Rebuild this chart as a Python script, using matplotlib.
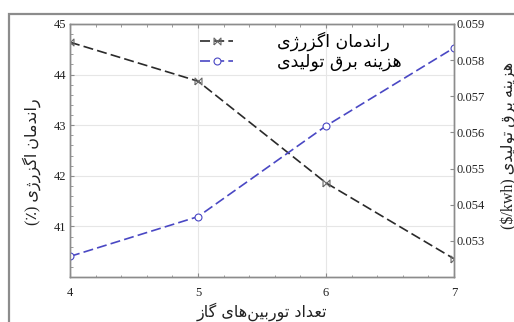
import matplotlib
matplotlib.use('Agg')
import matplotlib.pyplot as plt
from matplotlib.patches import Rectangle
from matplotlib.ticker import MultipleLocator

# data
turbines = [4, 5, 6, 7]
exergy_eff = [44.64, 43.87, 41.86, 40.36]
elec_cost = [0.05257, 0.05367, 0.05618, 0.05834]

left_ticks = [41, 42, 43, 44, 45]
right_ticks = [0.053, 0.054, 0.055, 0.056, 0.057, 0.058, 0.059]
right_tick_labels = ['0.053', '0.054', '0.055', '0.056', '0.057', '0.058', '0.059']

lbl_eff = 'راندمان اگزرژی'
lbl_cost = 'هزینه برق تولیدی'
lbl_x = 'تعداد توربین\u200cهای گاز'

# matplotlib has no arabic shaping, so pick presentation forms by hand
# (isolated, final, initial, medial)
FORMS = {
    'ا': ('\uFE8D', '\uFE8E', None, None),
    'ب': ('\uFE8F', '\uFE90', '\uFE91', '\uFE92'),
    'ت': ('\uFE95', '\uFE96', '\uFE97', '\uFE98'),
    'د': ('\uFEA9', '\uFEAA', None, None),
    'ر': ('\uFEAD', '\uFEAE', None, None),
    'ز': ('\uFEAF', '\uFEB0', None, None),
    'ع': ('\uFEC9', '\uFECA', '\uFECB', '\uFECC'),
    'ق': ('\uFED5', '\uFED6', '\uFED7', '\uFED8'),
    'ل': ('\uFEDD', '\uFEDE', '\uFEDF', '\uFEE0'),
    'م': ('\uFEE1', '\uFEE2', '\uFEE3', '\uFEE4'),
    'ن': ('\uFEE5', '\uFEE6', '\uFEE7', '\uFEE8'),
    'ه': ('\uFEE9', '\uFEEA', '\uFEEB', '\uFEEC'),
    'و': ('\uFEED', '\uFEEE', None, None),
    'ژ': ('\uFB8A', '\uFB8B', None, None),
    'گ': ('\uFB92', '\uFB93', '\uFB94', '\uFB95'),
    'ی': ('\uFBFC', '\uFBFD', '\uFBFE', '\uFBFF'),
}


def shape(s):
    out = []
    for i, c in enumerate(s):
        if c not in FORMS:
            out.append(c)
            continue
        prev = s[i - 1] if i > 0 else ''
        nxt = s[i + 1] if i + 1 < len(s) else ''
        jp = prev in FORMS and FORMS[prev][2] is not None
        jn = FORMS[c][2] is not None and nxt in FORMS
        iso, fin, ini, med = FORMS[c]
        if jp and jn:
            out.append(med)
        elif jp:
            out.append(fin)
        elif jn:
            out.append(ini)
        else:
            out.append(iso)
    return ''.join(out).replace('\u200c', '')[::-1]


fa = ['DejaVu Sans']
mixed = ['Liberation Serif', 'DejaVu Sans']
plt.rcParams['font.family'] = ['Liberation Serif', 'DejaVu Sans']

fig = plt.figure(figsize=(5.14, 3.22), dpi=100)
fig.patches.append(Rectangle((9 / 514, -0.2), 1.2, 0.2 + 1 - 14 / 322,
                             transform=fig.transFigure, fill=False,
                             edgecolor='#8c8c8c', lw=1.6))
ax = fig.add_axes([70 / 514, 45 / 322, 384 / 514, 253 / 322])
ax2 = ax.twinx()

black = '#2a2a2a'
blue = '#4a48c4'
l1, = ax.plot(turbines, exergy_eff, color=black, lw=1.2, dashes=(6, 2.5),
              marker=[(-1, -1), (-1, 1), (1, -1), (1, 1), (-1, -1)],
              markersize=5, markerfacecolor='none', markeredgecolor='#666666',
              markeredgewidth=0.8)
l2, = ax2.plot(turbines, elec_cost, color=blue, lw=1.2, dashes=(6, 2.5),
               marker='o', markersize=5, markerfacecolor='white',
               markeredgecolor=blue, markeredgewidth=0.8)

ax.set_xlim(4, 7)
ax.set_ylim(40, 45)
ax2.set_ylim(0.052, 0.059)
ax.set_xticks(turbines)
ax.set_yticks(left_ticks)
ax2.set_yticks(right_ticks)
ax2.set_yticklabels(right_tick_labels)
ax.xaxis.set_minor_locator(MultipleLocator(0.2))
ax.yaxis.set_minor_locator(MultipleLocator(0.2))

ax.grid(True, color='#e6e6e6', lw=0.8)
ax.set_axisbelow(True)

for a in (ax, ax2):
    for sp in a.spines.values():
        sp.set_color('#8c8c8c')
        sp.set_linewidth(1.0)
    a.tick_params(which='both', direction='in', colors='#8c8c8c',
                  labelcolor='#222222', labelsize=9)
    a.tick_params(which='major', length=3)
    a.tick_params(which='minor', length=1.8)
ax.tick_params(which='both', top=True)
ax.tick_params(axis='x', pad=7)
ax.tick_params(axis='y', pad=3)
ax2.tick_params(axis='y', pad=2)

ax.set_xlabel(shape(lbl_x), family=fa, fontsize=11.5, color='#222222')
ax.xaxis.set_label_coords(0.5, -0.1)
ax.set_ylabel('(٪) ' + shape(lbl_eff), family=mixed, fontsize=11.5, color='#222222')
ax.yaxis.set_label_coords(-0.075, 0.455)
ax2.set_ylabel('($/kwh) ' + shape(lbl_cost), family=mixed, fontsize=11.5,
               color='#222222')
ax2.yaxis.set_label_coords(1.12, 0.52)

leg = ax2.legend([l1, l2], [shape(lbl_eff), shape(lbl_cost)],
                 loc='upper left', bbox_to_anchor=(0.339, 0.97),
                 frameon=False, borderpad=0, borderaxespad=0,
                 handlelength=1.9, handletextpad=2.5, labelspacing=0.1,
                 prop={'family': fa, 'size': 12.5})

fig.savefig('out.png', dpi=100)
